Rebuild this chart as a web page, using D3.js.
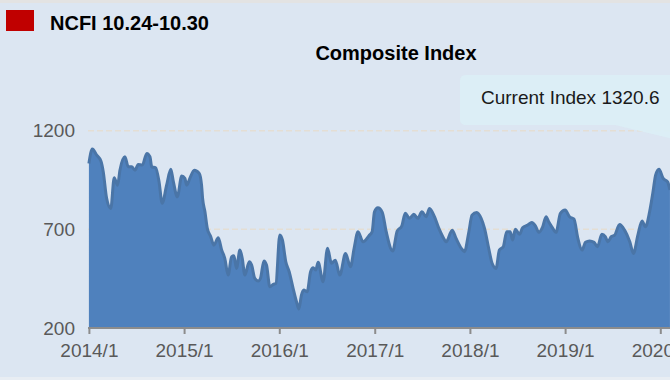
<!DOCTYPE html>
<html>
<head>
<meta charset="utf-8">
<script src="https://cdn.jsdelivr.net/npm/d3@7"></script>
<style>
  html, body { margin: 0; padding: 0; background: #dce6f2; }
  svg { display: block; font-family: "Liberation Sans", Arial, sans-serif; }
</style>
</head>
<body>
<svg id="chart" width="670" height="380"></svg>
<script>
// NCFI composite index, weekly-ish readings
const dates = [
  "2014-01-01","2014-01-14","2014-01-31","2014-02-16","2014-02-25","2014-03-10","2014-03-26",
  "2014-04-08","2014-04-21","2014-04-30","2014-05-19","2014-06-01","2014-06-14","2014-06-27",
  "2014-07-09","2014-07-25","2014-08-11","2014-08-23","2014-08-30","2014-09-14","2014-09-27",
  "2014-10-09","2014-10-26","2014-11-11","2014-11-21","2014-12-06","2014-12-23",
  "2015-01-04","2015-01-11","2015-01-23","2015-02-09","2015-02-28","2015-03-09","2015-03-13",
  "2015-03-22","2015-03-31","2015-04-13","2015-04-25","2015-05-12","2015-05-25","2015-06-06",
  "2015-06-19","2015-07-02","2015-07-11","2015-07-21","2015-08-03","2015-08-12","2015-08-22",
  "2015-09-08","2015-09-17","2015-09-29","2015-10-12","2015-10-21","2015-11-03","2015-11-13",
  "2015-11-26","2015-12-09","2015-12-19",
  "2016-01-03","2016-01-13","2016-01-26","2016-02-08","2016-02-23","2016-03-07","2016-03-16",
  "2016-03-26","2016-04-04","2016-04-17","2016-04-30","2016-05-10","2016-05-20","2016-05-29",
  "2016-06-17","2016-07-04","2016-07-19","2016-08-03","2016-08-20","2016-09-11","2016-09-30",
  "2016-10-14","2016-10-29","2016-11-17","2016-12-10","2016-12-22","2016-12-31",
  "2017-01-13","2017-01-30","2017-02-14","2017-03-11","2017-03-28","2017-04-15","2017-04-28",
  "2017-05-14","2017-05-31","2017-06-15","2017-07-01","2017-07-17","2017-07-30","2017-08-18",
  "2017-09-04","2017-09-19","2017-10-02","2017-10-25","2017-11-09","2017-11-29","2017-12-11",
  "2017-12-28",
  "2018-01-09","2018-01-27","2018-02-13","2018-02-26","2018-03-14","2018-03-27","2018-04-11",
  "2018-04-24","2018-05-09","2018-05-22","2018-06-04","2018-06-14","2018-06-24","2018-07-10",
  "2018-07-22","2018-08-11","2018-08-26","2018-09-09","2018-09-22","2018-10-07","2018-10-20",
  "2018-10-30","2018-11-11","2018-11-27","2018-12-14","2019-01-01",
  "2019-01-18","2019-02-04","2019-02-19","2019-03-07","2019-03-20","2019-04-05","2019-04-22",
  "2019-05-05","2019-05-22","2019-06-04","2019-06-14","2019-06-27","2019-07-10","2019-07-29",
  "2019-08-17","2019-09-06","2019-09-20","2019-10-07","2019-10-23","2019-11-05","2019-11-21",
  "2019-12-04","2019-12-14","2019-12-27",
  "2020-01-12","2020-01-29","2020-02-07"
];
const values = [
  1034,1107,1076,1046,992,857,806,
  961,924,1000,1068,1017,1017,1000,
  1029,1026,1085,1068,1017,1012,941,
  832,924,1004,941,865,970,
  958,924,958,1000,984,924,857,
  789,705,663,620,657,595,553,
  468,561,566,502,595,553,468,
  536,519,452,438,452,540,519,
  409,421,426,
  671,646,536,485,401,333,296,
  367,392,384,485,505,494,533,
  435,604,528,544,468,578,511,
  604,688,637,668,688,789,
  809,786,688,590,691,718,781,
  756,776,756,789,764,806,764,
  705,663,637,696,654,604,587,
  688,
  772,786,756,705,604,528,502,
  595,612,688,688,646,701,675,
  708,722,735,718,685,713,764,
  738,713,685,781,798,
  764,752,654,595,634,641,634,
  612,675,663,637,663,671,725,
  696,637,578,671,742,713,789,
  890,975,1005,
  958,941,900
];
const yTicks = [200, 700, 1200];
const tickYears = ["2014","2015","2016","2017","2018","2019","2020"];
const tickLabels = ["2014/1","2015/1","2016/1","2017/1","2018/1","2019/1","2020/1"];

const legendText = "NCFI 10.24-10.30";
const titleText = "Composite Index";
const currentText = "Current Index 1320.6";

const parse = d3.timeParse("%Y-%m-%d");
const data = dates.map((d, i) => ({ date: parse(d), value: values[i] }));

const svg = d3.select("#chart");

// background and thin frame bands
svg.append("rect").attr("width", 670).attr("height", 380).attr("fill", "#dce6f2");
svg.append("rect").attr("width", 670).attr("height", 3).attr("fill", "#e3e3e3");
svg.append("rect").attr("y", 377).attr("width", 670).attr("height", 3).attr("fill", "#e8edf3");

const x = d3.scaleTime()
  .domain([parse("2014-01-01"), parse("2020-01-01")])
  .range([88.9, 660.3]);
const y = d3.scaleLinear()
  .domain([200, 1200])
  .range([328, 130.7]);

// dashed grid lines
svg.append("g")
  .selectAll("line")
  .data(yTicks.filter(v => v > 200))
  .enter()
  .append("line")
  .attr("x1", 88).attr("x2", 670)
  .attr("y1", d => y(d)).attr("y2", d => y(d))
  .attr("stroke", "#e4ded4")
  .attr("stroke-width", 1.5)
  .attr("stroke-dasharray", "6,3");

// the area
const area = d3.area()
  .x(d => x(d.date))
  .y0(y(200))
  .y1(d => y(d.value))
  .curve(d3.curveMonotoneX);
const line = d3.line()
  .x(d => x(d.date))
  .y(d => y(d.value))
  .curve(d3.curveMonotoneX);

svg.append("path")
  .datum(data)
  .attr("d", area)
  .attr("fill", "#4f81bd");
svg.append("path")
  .datum(data)
  .attr("d", line)
  .attr("fill", "none")
  .attr("stroke", "#4a75a7")
  .attr("stroke-width", 3)
  .attr("stroke-linejoin", "round");

// x axis
const xAxis = d3.axisBottom(x)
  .tickValues(tickYears.map(t => parse(t + "-01-01")))
  .tickFormat((d, i) => tickLabels[i])
  .tickSize(6)
  .tickSizeOuter(0);
const gx = svg.append("g")
  .attr("transform", `translate(0,${y(200)})`)
  .call(xAxis);
gx.select(".domain").attr("stroke", "#8c8c8c").attr("stroke-width", 2)
  .attr("d", "M88,0H670");
gx.selectAll(".tick line").attr("stroke", "#8c8c8c").attr("stroke-width", 2);
gx.selectAll(".tick text")
  .attr("y", 16)
  .attr("fill", "#595959")
  .style("font-size", "19px")
  .style("font-family", "'Liberation Sans', Arial, sans-serif");

// y labels
svg.append("g")
  .selectAll("text")
  .data(yTicks)
  .enter()
  .append("text")
  .attr("x", 75)
  .attr("y", d => y(d))
  .attr("dy", "0.35em")
  .attr("text-anchor", "end")
  .attr("fill", "#595959")
  .style("font-size", "19px")
  .text(d => d);

// legend
svg.append("rect")
  .attr("x", 6).attr("y", 10).attr("width", 28).attr("height", 21)
  .attr("fill", "#c00000");
svg.append("text")
  .attr("x", 50).attr("y", 30)
  .attr("font-weight", "bold")
  .style("font-size", "20px")
  .attr("fill", "#000")
  .text(legendText);

// title
svg.append("text")
  .attr("x", 396).attr("y", 60)
  .attr("text-anchor", "middle")
  .attr("font-weight", "bold")
  .style("font-size", "20px")
  .attr("fill", "#000")
  .text(titleText);

// callout with current index
svg.append("path")
  .attr("d", "M466,75H700V125H700L760,160L615,125H466Q460,125 460,119V81Q460,75 466,75Z")
  .attr("fill", "#dbeef5")
  .attr("fill-opacity", 0.95);
svg.append("text")
  .attr("x", 481).attr("y", 104)
  .style("font-size", "19px")
  .attr("fill", "#1a1a1a")
  .text(currentText);
</script>
</body>
</html>
